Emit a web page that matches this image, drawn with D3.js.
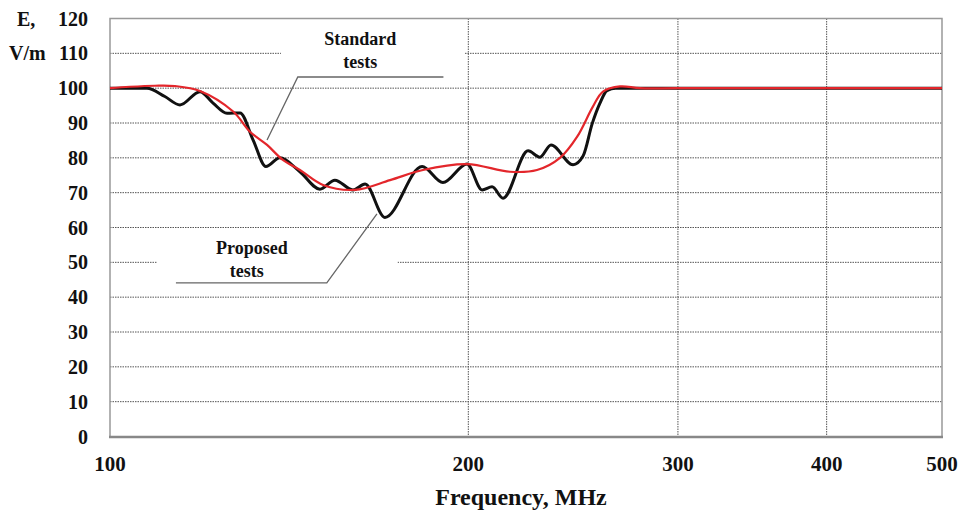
<!DOCTYPE html>
<html>
<head>
<meta charset="utf-8">
<script src="https://cdn.jsdelivr.net/npm/d3@7"></script>
<style>
  body { margin: 0; background: #fff; }
  svg { display: block; }
</style>
</head>
<body>
<svg id="chart" width="967" height="510"></svg>
<script>
// frequency (MHz) and field strength E (V/m)
var standardFreq = [100, 107.4, 111.2, 114.5, 119, 122, 125.4, 128.6, 131.9, 135.2, 138.9, 144.4, 150.1, 154.5,
  160, 163.8, 170.2, 182.9, 190.4, 199.5, 205.4, 209.4, 213.9, 224.5, 229.7, 234.7, 244.9, 249.7, 254.2,
  258, 261.5, 266, 300, 400, 500];
var standardE = [100, 100, 97.6, 95.2, 99, 95.8, 92.8, 92.9, 85.1, 77.5, 80, 76, 71, 73.6,
  70.8, 72.5, 62.9, 77.5, 72.9, 78.2, 70.8, 71.7, 68.4, 82, 80.2, 83.7, 78, 80.5, 89.9,
  95.7, 99.3, 100, 100, 100, 100];

var proposedFreq = [100, 103.9, 109.1, 113.4, 119, 126.9, 131.1, 135.5, 139.7, 144.4, 151, 160.6, 171.9,
  183.2, 199.5, 216.8, 228.4, 238.8, 246.8, 254.5, 259.5, 268.2, 278.8, 300, 400, 500];
var proposedE = [100, 100.4, 100.7, 100.6, 99.2, 93.3, 87.5, 83.7, 79.4, 76.5, 72.2, 70.8, 73.6,
  76.5, 78.2, 76, 76.5, 80, 86, 94.7, 99, 100.5, 100, 100, 100, 100];

var xTicks = [100, 200, 300, 400, 500];
var yTicks = [0, 10, 20, 30, 40, 50, 60, 70, 80, 90, 100, 110, 120];

var FONT = '"Liberation Serif", "DejaVu Serif", serif';

var svg = d3.select('#chart');

var x = d3.scaleLog().domain([100, 500]).range([110, 942]);
var y = d3.scaleLinear().domain([0, 120]).range([436.5, 18.5]);

// grid
svg.append('g').selectAll('line').data(yTicks.filter(function (d) { return d > 0 && d < 120; }))
  .enter().append('line')
  .attr('x1', x(100)).attr('x2', x(500))
  .attr('y1', function (d) { return y(d); }).attr('y2', function (d) { return y(d); })
  .attr('stroke', '#555').attr('stroke-width', 1).attr('stroke-dasharray', '1.5,1');

svg.append('g').selectAll('line').data([200, 300, 400])
  .enter().append('line')
  .attr('x1', function (d) { return x(d); }).attr('x2', function (d) { return x(d); })
  .attr('y1', y(120)).attr('y2', y(0))
  .attr('stroke', '#555').attr('stroke-width', 1).attr('stroke-dasharray', '1.5,1');

// frame
svg.append('path')
  .attr('d', 'M' + x(100) + ',' + y(0) + 'V' + y(120) + 'H' + x(500) + 'V' + y(0))
  .attr('fill', 'none').attr('stroke', '#999').attr('stroke-width', 1.5);
svg.append('line')
  .attr('x1', x(100) - 1).attr('x2', x(500) + 1).attr('y1', y(0) + 0.5).attr('y2', y(0) + 0.5)
  .attr('stroke', '#888').attr('stroke-width', 2.5);

// white boxes behind the callouts
function box(f0, f1, e0, e1) {
  svg.append('rect')
    .attr('x', x(f0)).attr('y', y(e1))
    .attr('width', x(f1) - x(f0)).attr('height', y(e0) - y(e1))
    .attr('fill', '#fff');
}
box(139.2, 198.7, 102.4, 117.3);
box(109.5, 174.4, 41.5, 58.7);

// curves
var lineStd = d3.line()
  .x(function (d) { return x(d[0]); }).y(function (d) { return y(d[1]); })
  .curve(d3.curveMonotoneX);
var lineProp = d3.line()
  .x(function (d) { return x(d[0]); }).y(function (d) { return y(d[1]); })
  .curve(d3.curveCatmullRom.alpha(0.5));

svg.append('path')
  .datum(d3.zip(standardFreq, standardE))
  .attr('d', lineStd)
  .attr('fill', 'none').attr('stroke', '#111').attr('stroke-width', 3)
  .attr('stroke-linejoin', 'round');

svg.append('path')
  .datum(d3.zip(proposedFreq, proposedE))
  .attr('d', lineProp)
  .attr('fill', 'none').attr('stroke', '#e3262b').attr('stroke-width', 2.2)
  .attr('stroke-linejoin', 'round');

// callouts
function callout(pts) {
  svg.append('path')
    .attr('d', d3.line().x(function (d) { return x(d[0]); }).y(function (d) { return y(d[1]); })(pts))
    .attr('fill', 'none').attr('stroke', '#666').attr('stroke-width', 1.3);
}
callout([[190.6, 103.2], [143.8, 103.2], [135.5, 85.1]]);
callout([[113.6, 44.1], [152.1, 44.1], [167.6, 63.9]]);

function txt(px, py, s, size, anchor) {
  return svg.append('text').attr('x', px).attr('y', py)
    .attr('font-family', FONT).attr('font-weight', 'bold').attr('fill', '#111')
    .attr('font-size', size).attr('text-anchor', anchor || 'start').text(s);
}

txt(x(162.3), y(112.4), 'Standard', 18, 'middle');
txt(x(162.3), y(105.8), 'tests', 18, 'middle');
txt(x(131.6), y(52.4), 'Proposed', 18, 'middle');
txt(x(130.3), y(45.8), 'tests', 18, 'middle');

// axes labels
yTicks.forEach(function (d) {
  txt(88, y(d), d, 20, 'end').attr('dy', '0.35em');
});
xTicks.forEach(function (d) {
  txt(x(d), 471, d, 21, 'middle');
});

txt(17, y(120), 'E,', 20).attr('dy', '0.35em');
txt(9, y(110), 'V/m', 20).attr('dy', '0.35em');

txt(521, 505, 'Frequency, MHz', 24, 'middle');
</script>
</body>
</html>
